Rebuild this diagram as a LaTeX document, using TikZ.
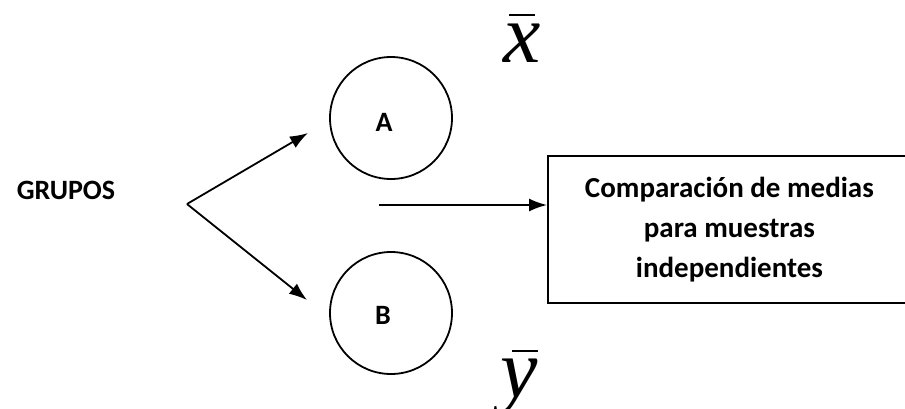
\documentclass[tikz,border=0pt]{standalone}
\usepackage{fontspec}
\setmainfont{Carlito}
\newfontfamily\serifit{Liberation Serif}
\usetikzlibrary{arrows.meta}
\tikzset{
  conn/.style={line width=1.8pt,-{Latex[length=18pt,width=13pt]}},
  grp/.style={circle,draw,line width=1.8pt,minimum size=122pt,inner sep=0pt},
  lbl/.style={font=\fontsize{28}{28}\selectfont\bfseries},
  circlbl/.style={font=\fontsize{28}{28}\selectfont\bfseries},
  boxstyle/.style={draw,line width=1.8pt,minimum width=363pt,minimum height=147pt,
    align=center,font=\fontsize{29}{40}\selectfont\bfseries,inner sep=0pt},
  meanlbl/.style={font=\fontsize{84}{84}\selectfont\serifit\itshape,inner sep=0pt}
}
\newcommand{\meanbar}[2]{\makebox[0pt][l]{\hspace*{#2}\raisebox{#1}{\rule{26pt}{2pt}}}}
\begin{document}
\begin{tikzpicture}[x=1pt,y=-1pt]
\useasboundingbox (0,0) rectangle (905,408);
\clip (0,0) rectangle (905,408);
\node[lbl] (grupos) at (66,190) {GRUPOS};
\coordinate (fork) at (187,204);
\node[grp,label={[circlbl,xshift=-7pt,yshift=-4pt]center:A}] (ca) at (391,118) {};
\node[grp,label={[circlbl,xshift=-8pt,yshift=-2pt]center:B}] (cb) at (391,313) {};
\coordinate (tipa) at (308,133);
\coordinate (tipb) at (307,300);
\draw[conn] (fork) -- (tipa);
\draw[conn] (fork) -- (tipb);
\node[boxstyle,anchor=north west] (box) at (547,155) {Comparación de medias\\para muestras\\independientes};
\coordinate (hstart) at (379,205);
\draw[conn] (hstart) -- (hstart -| box.west);
\node[meanlbl,anchor=base west] (xbar) at (503,62) {\meanbar{46pt}{6pt}x};
\node[meanlbl,anchor=base west] (ybar) at (500,397) {\meanbar{45pt}{12pt}y};
\end{tikzpicture}
\end{document}
